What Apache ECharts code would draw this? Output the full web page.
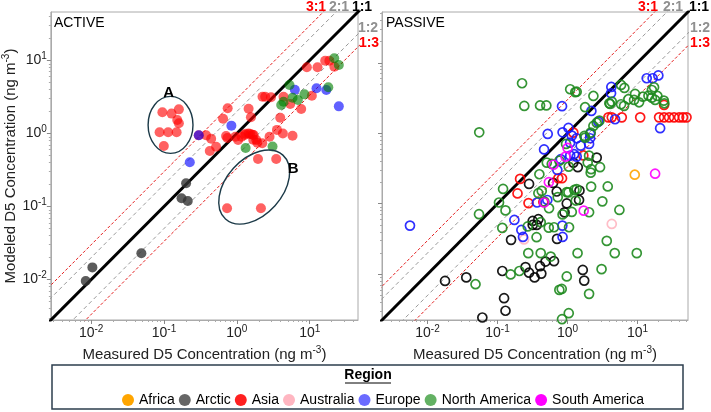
<!DOCTYPE html>
<html>
<head>
<meta charset="utf-8">
<script src="https://cdn.jsdelivr.net/npm/echarts@6/dist/echarts.min.js"></script>
<style>
  html, body { margin: 0; padding: 0; background: #fff; }
  #chart { width: 711px; height: 412px; }
</style>
</head>
<body>
<div id="chart"></div>
<script>
// 数据: [measured, modeled] in ng m-3
const regions = ['Africa', 'Arctic', 'Asia', 'Australia', 'Europe', 'North America', 'South America']

const activeAsia = [
  [0.095, 1.95], [0.127, 1.87], [0.160, 2.14], [0.152, 1.53], [0.160, 1.38], [0.087, 1.04], [0.114, 1.04],
  [0.149, 1.04], [0.0995, 0.674],
  [0.300, 0.944], [0.378, 0.944], [0.444, 0.849], [0.425, 0.576], [0.519, 0.659], [0.647, 1.59], [0.748, 2.21],
  [0.711, 0.924], [0.741, 0.867], [0.953, 0.904], [1.04, 0.815], [1.16, 0.904], [1.28, 0.953], [1.53, 0.984],
  [1.64, 0.962], [1.85, 0.815], [1.91, 0.748], [1.56, 1.67], [1.45, 2.18], [3.94, 1.64], [2.25, 3.19],
  [2.45, 3.19], [2.94, 3.13], [4.37, 3.19], [5.40, 2.54], [7.64, 2.16], [3.55, 1.12], [4.28, 1.0], [5.81, 0.933],
  [2.81, 0.904], [2.23, 0.734], [1.70, 0.953], [1.32, 0.99], [1.45, 1.0], [1.68, 0.82], [10.7, 3.29], [9.14, 8.06],
  [12.8, 8.06], [16.3, 9.9], [18.6, 9.9], [21.8, 8.2],
  [1.95, 0.448], [3.47, 0.448], [0.734, 0.0946], [2.14, 0.0946]
]
const activeArctic = [[0.201, 0.208], [0.174, 0.130], [0.212, 0.119], [0.0489, 0.0229], [0.0104, 0.0147], [0.00843, 0.00957]]
const activeEurope = [[0.300, 0.944], [0.841, 1.28], [0.226, 0.404], [6.25, 3.97], [12.4, 4.16], [16.9, 3.94], [25.1, 2.35]]
const activeNorthAmerica = [
  [1.32, 0.633], [3.09, 0.664], [4.06, 2.45], [4.37, 2.72], [5.81, 3.09], [6.88, 2.87], [8.47, 3.43], [5.28, 4.61],
  [18.0, 4.29], [21.7, 10.7], [25.1, 8.67]
]

const passiveNorthAmerica = [
  [0.224, 5.12], [0.241, 2.44], [0.405, 2.48], [0.498, 2.48], [0.0548, 1.03], [1.09, 4.21], [1.29, 3.83], [2.34, 3.38],
  [1.78, 2.34], [5.81, 4.84], [6.48, 4.39], [4.05, 2.60], [4.28, 2.81], [5.81, 2.58], [6.41, 2.44], [7.39, 3.04],
  [9.21, 3.61], [8.91, 2.97], [10.5, 2.75], [11.9, 3.31], [14.3, 3.41], [16.0, 4.11], [17.2, 4.49], [17.8, 2.97],
  [23.7, 2.90], [16.0, 3.20], [19.2, 3.38], [24.1, 2.66], [2.34, 1.27], [2.14, 1.02], [2.85, 1.51], [1.74, 0.916],
  [3.95, 2.66], [1.35, 3.89], [2.61, 1.41], [1.78, 0.867], [2.03, 0.481], [2.91, 0.330], [2.17, 0.309], [2.14, 0.276],
  [2.17, 0.175], [3.75, 0.176], [3.14, 0.108], [0.396, 0.262], [0.505, 0.383], [0.595, 0.367], [0.764, 0.408],
  [1.04, 0.336], [0.428, 0.152], [0.120, 0.162], [1.03, 0.145], [1.25, 0.157], [1.35, 0.161], [1.94, 0.383],
  [0.105, 0.104], [0.0544, 0.071], [0.130, 0.0804], [0.117, 0.0454], [0.361, 0.0335], [0.414, 0.0547],
  [0.270, 0.0476], [0.539, 0.0458], [0.641, 0.0464], [1.05, 0.0464], [0.975, 0.146], [1.31, 0.111], [2.03, 0.0757],
  [1.15, 0.0765], [0.849, 0.0705], [5.5, 0.0817], [3.63, 0.0297], [4.72, 0.0199], [9.74, 0.0199], [1.39, 0.0199],
  [3.06, 0.0118], [0.975, 0.0093], [0.764, 0.00599], [0.826, 0.00618], [2.03, 0.00526], [0.275, 0.0199],
  [0.414, 0.0199], [0.575, 0.0178], [0.154, 0.00993], [0.205, 0.0111], [0.0485, 0.00721], [0.834, 0.0023],
  [1.04, 0.0028], [0.467, 0.107], [0.544, 0.0863], [0.383, 0.141], [0.724, 0.124], [0.952, 0.705]
]
const passiveEurope = [
  [13.5, 6.03], [16.4, 6.03], [19.8, 6.61], [4.22, 4.54], [4.18, 3.69], [0.834, 2.42], [2.19, 2.07], [21.0, 1.18],
  [4.77, 1.58], [2.75, 1.46], [0.521, 0.977], [0.849, 1.03], [1.03, 1.19], [1.15, 0.925], [1.35, 0.849],
  [1.09, 0.736], [1.54, 0.667], [2.03, 0.705], [2.10, 0.977], [2.10, 0.849], [0.462, 0.589], [0.800, 0.428],
  [1.09, 0.481], [1.24, 0.504], [1.35, 0.466], [0.00562, 0.0489], [0.174, 0.0589], [0.219, 0.0425], [0.231, 0.0338],
  [0.367, 0.104], [0.514, 0.113], [0.843, 0.0489], [0.849, 0.0338], [0.715, 0.301]
]
const passiveAsia = [
  [3.83, 1.68], [4.28, 1.68], [5.95, 1.68], [10.9, 1.68], [20.3, 1.68], [23.9, 1.68], [28.2, 1.68], [33.2, 1.68],
  [39.2, 1.68], [44.5, 1.68], [50.0, 1.68], [23.9, 2.52], [1.21, 1.02], [1.68, 0.484], [0.210, 0.225],
  [0.193, 0.140], [0.277, 0.102], [0.739, 0.230], [0.834, 0.230], [0.451, 0.106]
]
const passiveArctic = [
  [2.61, 0.451], [1.21, 0.383], [1.40, 0.330], [0.282, 0.191], [0.621, 0.197], [0.701, 0.149], [1.48, 0.154],
  [1.46, 0.113], [0.975, 0.101], [0.906, 0.0753], [0.318, 0.0570], [0.383, 0.0603], [0.318, 0.0500], [0.363, 0.0500],
  [0.156, 0.0307], [0.708, 0.0317], [0.117, 0.0111], [0.251, 0.0126], [0.282, 0.0105], [0.338, 0.00901],
  [0.405, 0.0130], [0.422, 0.0102], [0.485, 0.0151], [0.641, 0.0153], [1.65, 0.0115], [1.73, 0.00811],
  [0.0178, 0.00803], [0.0358, 0.00901], [0.124, 0.00457], [0.130, 0.00303], [0.0607, 0.00243]
]
const passiveSouthAmerica = [[1.0, 0.618], [0.936, 0.466], [0.631, 0.357], [0.541, 0.202], [17.8, 0.267], [1.70, 0.0798], [0.462, 0.104]]
const passiveAfrica = [[9.12, 0.258]]
const passiveAustralia = [[4.28, 0.0517], [0.239, 0.0311]]

// 坐标范围
const activeRange = [0.0028, 46]
const passiveRange = [0.00224, 52.5]
const majorTicks = [-2, -1, 0, 1]
// 比例线
const ratios = [
  { k: 3, color: '#e41e1e', width: 1, type: [3, 2] },
  { k: 2, color: '#999999', width: 1, type: [4, 3] },
  { k: 1, color: '#000000', width: 3, type: 'solid' },
  { k: 1 / 2, color: '#999999', width: 1, type: [4, 3] },
  { k: 1 / 3, color: '#e41e1e', width: 1, type: [3, 2] },
]
// 圈注 (data units, radii in decades)
const ellipseA = { name: 'A', center: [0.123, 1.31], rx: 0.308, ry: 0.39, rot: 0 }
const ellipseB = { name: 'B', center: [1.73, 0.185], rx: 0.589, ry: 0.383, rot: 48 }

const activeSets = { 'Arctic': activeArctic, 'Asia': activeAsia, 'Europe': activeEurope, 'North America': activeNorthAmerica }
const passiveSets = {
  'Africa': passiveAfrica, 'Arctic': passiveArctic, 'Asia': passiveAsia, 'Australia': passiveAustralia,
  'Europe': passiveEurope, 'North America': passiveNorthAmerica, 'South America': passiveSouthAmerica
}
const activeColors = { 'Arctic': '#333333', 'Asia': '#ff0000', 'Europe': '#0000ff', 'North America': '#008000' }
const passiveColors = {
  'Africa': '#ffa500', 'Arctic': '#000000', 'Asia': '#ff0000', 'Australia': '#ffb6c1',
  'Europe': '#1a1aff', 'North America': '#1f8a1f', 'South America': '#ff00ff'
}
const legendColors = {
  'Africa': '#ffa500', 'Arctic': '#666666', 'Asia': '#ff2020', 'Australia': '#ffb6c1',
  'Europe': '#6b6bff', 'North America': '#63b163', 'South America': '#ff00ff'
}

const FONT = 'Liberation Sans'
const L = Math.log10

let minorValues = range => {
  let out = []
  for (let n = -4; n <= 2; n++) {
    for (let k = 2; k <= 9; k++) {
      let v = L(k) + n
      if (v > L(range[0]) && v < L(range[1])) out.push(v)
    }
  }
  return out
}

const powRich = {
  b: { fontSize: 14, lineHeight: 18, fontFamily: FONT, color: '#222' },
  s: { fontSize: 10, lineHeight: 11, verticalAlign: 'top', fontFamily: FONT, color: '#222' },
}
const nameRich = {
  t: { fontSize: 15, lineHeight: 20, fontFamily: FONT, color: '#222' },
  s: { fontSize: 10, lineHeight: 12, verticalAlign: 'top', fontFamily: FONT, color: '#222' },
}
const axisName = (label) => '{t|' + label + ' D5 Concentration (ng m}{s|-3}{t|)}'

let makeAxes = (dim, gridIndex, range, showLabels, name, nameGap) => {
  let main = {
    type: 'value',
    gridIndex: gridIndex,
    position: dim === 'x' ? 'bottom' : 'left',
    min: L(range[0]),
    max: L(range[1]),
    splitLine: { show: false },
    axisLine: { show: true, onZero: false, lineStyle: { color: '#aaaaaa', width: 1 } },
    axisTick: { show: true, customValues: majorTicks, length: 4, lineStyle: { color: '#888' } },
    axisLabel: {
      show: showLabels,
      customValues: majorTicks,
      margin: 4,
      formatter: v => '{b|10}{s|' + Math.round(v) + '}',
      rich: powRich,
    },
  }
  if (name) {
    main.name = name
    main.nameLocation = 'middle'
    main.nameGap = nameGap
    main.nameTextStyle = { rich: nameRich }
  }
  let minor = {
    type: 'value',
    gridIndex: gridIndex,
    position: dim === 'x' ? 'bottom' : 'left',
    min: L(range[0]),
    max: L(range[1]),
    splitLine: { show: false },
    axisLine: { show: false, onZero: false },
    axisLabel: { show: false },
    axisTick: { show: true, customValues: minorValues(range), length: 2, lineStyle: { color: '#aaa' } },
  }
  return [main, minor]
}

let xAxes = [
  ...makeAxes('x', 0, activeRange, true, axisName('Measured'), 22),
  ...makeAxes('x', 1, passiveRange, true, axisName('Measured'), 22),
]
let yAxes = [
  ...makeAxes('y', 0, activeRange, true, axisName('Modeled'), 29),
  ...makeAxes('y', 1, passiveRange, false, null, 0),
]

let series = []
;[0, 1].forEach(g => {
  ratios.forEach(r => {
    series.push({
      type: 'line',
      xAxisIndex: g * 2,
      yAxisIndex: g * 2,
      symbol: 'none',
      silent: true,
      z: 1,
      clip: true,
      lineStyle: { color: r.color, width: r.width, type: r.type },
      data: [[-4, -4 + L(r.k)], [3, 3 + L(r.k)]],
    })
  })
})

Object.keys(activeSets).forEach(region => {
  series.push({
    name: region,
    type: 'scatter',
    xAxisIndex: 0,
    yAxisIndex: 0,
    symbolSize: 10,
    z: 3,
    itemStyle: { color: activeColors[region], opacity: region === 'Arctic' ? 0.8 : 0.62 },
    data: activeSets[region].map(d => [L(d[0]), L(d[1])]),
  })
})
Object.keys(passiveSets).forEach(region => {
  series.push({
    name: region,
    type: 'scatter',
    xAxisIndex: 2,
    yAxisIndex: 2,
    symbolSize: 9,
    z: 3,
    itemStyle: { color: 'rgba(255,255,255,0)', borderColor: passiveColors[region], borderWidth: 1.7, opacity: 0.9 },
    data: passiveSets[region].map(d => [L(d[0]), L(d[1])]),
  })
})

let option = {
  animation: false,
  backgroundColor: '#fff',
  textStyle: { fontFamily: FONT },
  grid: [
    { left: 50, top: 12, width: 308, height: 308, show: true, borderColor: '#aaaaaa', borderWidth: 1 },
    { left: 382, top: 12, width: 306, height: 308, show: true, borderColor: '#aaaaaa', borderWidth: 1 },
  ],
  xAxis: xAxes,
  yAxis: yAxes,
  legend: {
    left: 117,
    top: 388,
    width: 600,
    itemWidth: 12,
    itemHeight: 12,
    itemGap: 4,
    selectedMode: false,
    textStyle: { fontSize: 14, color: '#000', fontFamily: FONT },
    data: regions.map(r => ({ name: r, icon: 'circle', itemStyle: { color: legendColors[r], borderWidth: 0, opacity: 1 } })),
  },
  series: series,
}

const myChart = echarts.init(document.getElementById('chart'), null, { renderer: 'canvas' })
myChart.setOption(option)

// 注释图形
let ellipseGraphic = e => {
  let c = myChart.convertToPixel({ gridIndex: 0 }, [L(e.center[0]), L(e.center[1])])
  let px = myChart.convertToPixel({ gridIndex: 0 }, [L(e.center[0]) + e.rx, L(e.center[1]) + e.ry])
  return {
    type: 'ellipse',
    x: c[0],
    y: c[1],
    rotation: (e.rot * Math.PI) / 180,
    shape: { cx: 0, cy: 0, rx: Math.abs(px[0] - c[0]), ry: Math.abs(px[1] - c[1]) },
    style: { fill: 'none', stroke: '#1c3a48', lineWidth: 1.4 },
    z: 10,
  }
}
let cA = myChart.convertToPixel({ gridIndex: 0 }, [L(ellipseA.center[0]), L(ellipseA.center[1])])
let cB = myChart.convertToPixel({ gridIndex: 0 }, [L(ellipseB.center[0]), L(ellipseB.center[1])])

let txt = (text, x, y, color, size) => ({
  type: 'text',
  x: x,
  y: y,
  z: 10,
  style: {
    text: text, fill: color, font: 'bold ' + (size || 14) + 'px "' + FONT + '"', align: 'center', verticalAlign: 'middle',
  },
})

let graphics = [
  ellipseGraphic(ellipseA),
  ellipseGraphic(ellipseB),
  txt('A', cA[0] - 2, cA[1] - 32, '#000', 15),
  txt('B', cB[0] + 39, cB[1] - 18, '#000', 15),
  { type: 'text', x: 54, y: 23, z: 10, style: { text: 'ACTIVE', fill: '#000', font: '14px "' + FONT + '"', verticalAlign: 'middle' } },
  { type: 'text', x: 386, y: 23, z: 10, style: { text: 'PASSIVE', fill: '#000', font: '14px "' + FONT + '"', verticalAlign: 'middle' } },
  // ratio labels
  txt('3:1', 316, 7, '#ff0000'), txt('2:1', 339, 7, '#909090'), txt('1:1', 362, 7, '#000'),
  txt('1:2', 368, 28, '#909090'), txt('1:3', 369, 43, '#ff0000'),
  txt('3:1', 648, 7, '#ff0000'), txt('2:1', 673, 7, '#909090'), txt('1:1', 699, 7, '#000'),
  txt('1:2', 700, 28, '#909090'), txt('1:3', 700, 43, '#ff0000'),
  // legend box
  { type: 'rect', z: 0, shape: { x: 52, y: 365, width: 631, height: 44 }, style: { fill: '#fff', stroke: '#2d3e4e', lineWidth: 1.5 } },
  { type: 'text', x: 368, y: 375, z: 10, style: { text: 'Region', fill: '#000', font: 'bold 14px "' + FONT + '"', align: 'center', verticalAlign: 'middle' } },
  { type: 'line', z: 10, shape: { x1: 345, y1: 383, x2: 391, y2: 383 }, style: { stroke: '#000', lineWidth: 1 } },
]
myChart.setOption({ graphic: graphics })
</script>
</body>
</html>
